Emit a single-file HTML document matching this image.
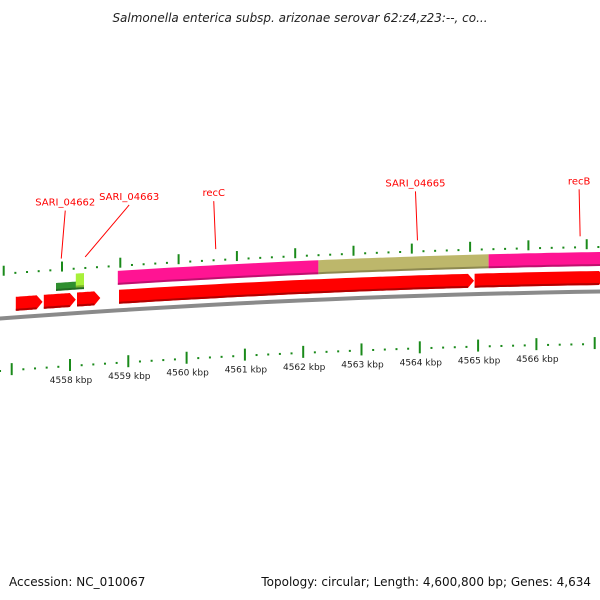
<!DOCTYPE html>
<html><head><meta charset="utf-8"><style>
html,body{margin:0;padding:0;background:#fff;}
svg{display:block;font-family:"DejaVu Sans","Liberation Sans",sans-serif;}
</style></head><body>
<svg id="map" width="600" height="600" viewBox="0 0 600 600">
<text x="300" y="22" text-anchor="middle" font-size="12" font-style="italic" fill="#222">Salmonella enterica subsp. arizonae serovar 62:z4,z23:--, co...</text>
<text x="9" y="586" font-size="12" fill="#111">Accession: NC_010067</text>
<text x="591" y="586" text-anchor="end" font-size="12" fill="#111">Topology: circular; Length: 4,600,800 bp; Genes: 4,634</text>
</svg>
<script>
// data (kbp)
const tickStart = 4556.8, tickEnd = 4567.2, tickStep = 0.2;
const labelTicks = [4558, 4559, 4560, 4561, 4562, 4563, 4564, 4565, 4566];
const featStarts = [4556.6, 4557.76, 4558.24, 4558.82, 4562.26, 4565.18];
const featEnds   = [4556.72, 4558.24, 4558.1, 4562.26, 4565.18, 4567.5];
const featColors = ['#1aa8e0', '#2f8f2f', '#a8f03a', '#ff1493', '#bdb76b', '#ff1493'];
const cdsStarts = [4556.6, 4557.07, 4557.55, 4558.12, 4558.84, 4562.03, 4564.94];
const cdsEnds   = [4556.68, 4557.53, 4558.1, 4558.52, 4562.26, 4564.93, 4567.5];
const geneNames = ['SARI_04662', 'SARI_04663', 'recC', 'SARI_04665', 'recB'];
const geneAt    = [4557.85, 4558.26, 4560.5, 4563.96, 4566.75];

const svg = document.getElementById('map');
const NS = 'http://www.w3.org/2000/svg';
const xOf = k => 70 + (k - 4558) * 58.3;
const y0 = x => 318 - 0.075 * x + 5e-5 * x * x;
const yAt = (x, d) => y0(x) - d;
function mk(tag, attrs){const e=document.createElementNS(NS,tag);for(const k in attrs)e.setAttribute(k,attrs[k]);svg.appendChild(e);return e;}
function band(x1,x2,d1,d2,tip){
  const pts=[];const n=20;
  for(let i=0;i<=n;i++){const x=x1+(x2-x1)*i/n;pts.push([x,yAt(x,d2)]);}
  if(tip){const xm=x2+tip;pts.push([xm,yAt(xm,(d1+d2)/2)]);}
  for(let i=n;i>=0;i--){const x=x1+(x2-x1)*i/n;pts.push([x,yAt(x,d1)]);}
  return pts.map(p=>p[0].toFixed(1)+','+p[1].toFixed(1)).join(' ');
}
// backbone
let bb=mk('polygon',{points:band(-5,605,-2.5,1.5),fill:'#8a8a8a'});


// features
for(let i=0;i<featStarts.length;i++){
  const x1=Math.max(-5,xOf(featStarts[i])),x2=Math.min(605,xOf(featEnds[i]));
  const dark = featColors[i]==='#2f8f2f';
  const p=mk('polygon',{points:band(x1,x2,dark?23:25,dark?31:39),fill:featColors[i]});
  
  
  const s=mk('polygon',{points:band(x1,x2,dark?23:25,dark?25:27),fill:'rgba(0,0,0,0.25)'});
  
  
}
// CDS arrows
for(let i=0;i<cdsStarts.length;i++){
  const x1=Math.max(-5,xOf(cdsStarts[i])),x2=Math.min(605,xOf(cdsEnds[i]))-6;
  const p=mk('polygon',{points:band(x1,x2,6,20,6),fill:'#ff0000'});
  
  
  const s=mk('polygon',{points:band(x1,x2,6,8),fill:'#b00000'});
  
  
}
// ticks
for(let k=tickStart;k<=tickEnd+1e-6;k+=tickStep){
  const kr=Math.round(k*10)/10;const major=Math.abs(kr-Math.round(kr))<1e-6;
  const x=xOf(kr);
  const xo=x-8;
  const t1=mk('line',{x1:xo,x2:xo,y1:yAt(xo,major?52:45),y2:yAt(xo,major?42:43),stroke:'#1a8a1a','stroke-width':2});
  
  
  const t2=mk('line',{x1:x,x2:x,y1:yAt(x,major?-46:-52),y2:yAt(x,major?-58:-54),stroke:'#1a8a1a','stroke-width':2});
  
  
}
for(const k of labelTicks){
  const x=xOf(k);
  const t=mk('text',{x:x+1,y:yAt(x,-70),'text-anchor':'middle','font-size':'9',fill:'#222'});
  t.textContent=k+' kbp';
  
  
}
// gene labels
const labelOffsets=[[4,-56],[44,-60],[-2,-56],[-2,-57],[-1,-55]];
for(let i=0;i<geneNames.length;i++){
  const x=xOf(geneAt[i]);const yb=yAt(x,55);
  const lx=x+labelOffsets[i][0],ly=yb+labelOffsets[i][1];
  const l=mk('line',{x1:x,y1:yb,x2:lx,y2:ly+8,stroke:'#ff0000','stroke-width':1});
  
  
  const t=mk('text',{x:lx,y:ly+3,'text-anchor':'middle','font-size':'10',fill:'#ff0000'});
  t.textContent=geneNames[i];
  
  
}
</script>
</body></html>
